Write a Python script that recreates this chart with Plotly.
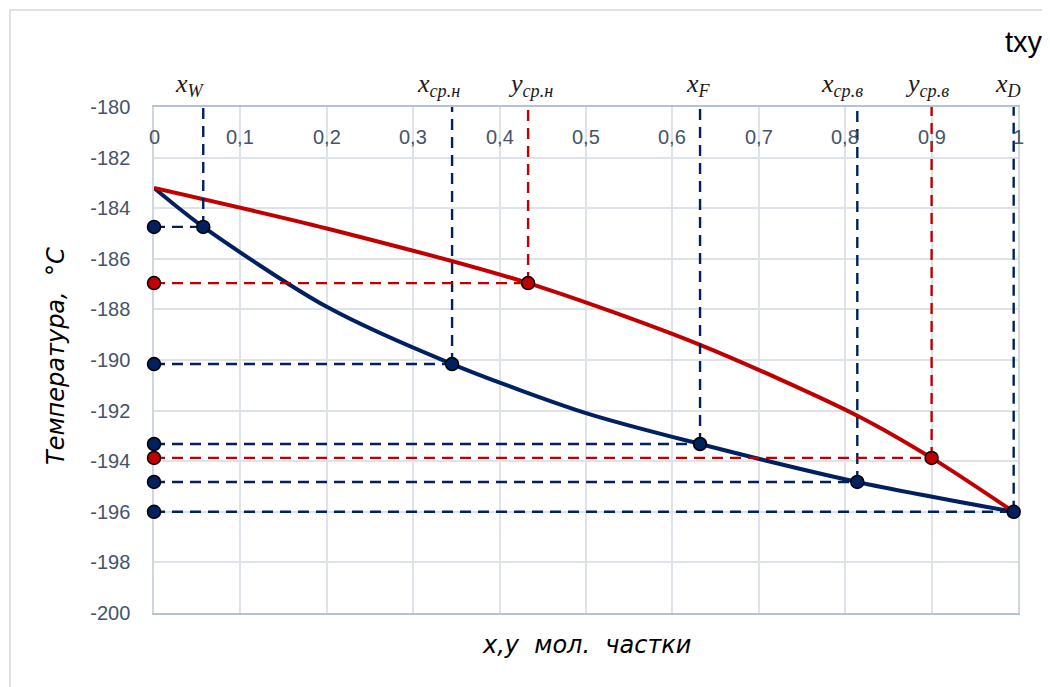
import plotly.graph_objects as go

# ---- data ----
liquid_x = [0.0, 0.057, 0.2, 0.345, 0.5, 0.632, 0.814, 0.995]
liquid_t = [-183.2, -184.74, -187.9, -190.16, -192.1, -193.32, -194.82, -196.0]

vapor_x = [0.0, 0.2, 0.433, 0.632, 0.814, 0.9, 0.995]
vapor_t = [-183.2, -184.8, -186.96, -189.4, -192.2, -193.87, -196.0]

point_labels = ["x<sub>W</sub>", "x<sub>ср.н</sub>", "y<sub>ср.н</sub>", "x<sub>F</sub>",
                "x<sub>ср.в</sub>", "y<sub>ср.в</sub>", "x<sub>D</sub>"]
point_x = [0.057, 0.345, 0.433, 0.632, 0.814, 0.900, 0.995]
point_t = [-184.74, -190.16, -186.96, -193.32, -194.82, -193.87, -196.0]
point_kind = ["liquid", "liquid", "vapor", "liquid", "liquid", "vapor", "liquid"]
label_shift = [-13, -14, 2, -2, -15, -5, -6]

x_tick_vals = [0.0, 0.1, 0.2, 0.3, 0.4, 0.5, 0.6, 0.7, 0.8, 0.9, 1.0]
x_tick_text = ["0", "0,1", "0,2", "0,3", "0,4", "0,5", "0,6", "0,7", "0,8", "0,9", "1"]
y_tick_vals = [-200, -198, -196, -194, -192, -190, -188, -186, -184, -182, -180]
y_tick_text = ["-200", "-198", "-196", "-194", "-192", "-190", "-188", "-186", "-184", "-182", "-180"]

y_top = -180
y_bottom = -200

BLUE = "#002060"
RED = "#C00000"
TICK_COLOR = "#44546A"

fig = go.Figure()

# curves
fig.add_trace(go.Scatter(x=liquid_x, y=liquid_t, mode="lines",
                         line=dict(color=BLUE, width=4, shape="spline", smoothing=0.8),
                         showlegend=False, hoverinfo="skip"))
fig.add_trace(go.Scatter(x=vapor_x, y=vapor_t, mode="lines",
                         line=dict(color=RED, width=4, shape="spline", smoothing=0.8),
                         showlegend=False, hoverinfo="skip"))

# guide lines
for px_, pt_, kind in zip(point_x, point_t, point_kind):
    col = BLUE if kind == "liquid" else RED
    fig.add_trace(go.Scatter(x=[0, px_], y=[pt_, pt_], mode="lines",
                             line=dict(color=col, width=2.4, dash="11px,7px"),
                             showlegend=False, hoverinfo="skip"))
    fig.add_trace(go.Scatter(x=[px_, px_], y=[pt_, y_top], mode="lines",
                             line=dict(color=col, width=2.4, dash="11px,7px"),
                             showlegend=False, hoverinfo="skip"))

# markers
for px_, pt_, kind in zip(point_x, point_t, point_kind):
    col = BLUE if kind == "liquid" else RED
    fig.add_trace(go.Scatter(x=[0, px_], y=[pt_, pt_], mode="markers",
                             marker=dict(color=col, size=13, line=dict(color="black", width=1.5)),
                             showlegend=False, cliponaxis=False, hoverinfo="skip"))

# x tick labels (drawn just below the top axis, inside the plot)
for tv, tt in zip(x_tick_vals, x_tick_text):
    fig.add_annotation(x=tv, y=0.9407, xref="x", yref="paper", text=tt, showarrow=False,
                       xanchor="center", yanchor="middle",
                       font=dict(family="Liberation Sans", size=20, color=TICK_COLOR))

# point labels above the top axis
for lab, px_, sh in zip(point_labels, point_x, label_shift):
    fig.add_annotation(x=px_, y=1.043, xref="x", yref="paper", text=lab, showarrow=False,
                       xshift=sh, xanchor="center", yanchor="middle",
                       font=dict(family="Liberation Serif", size=26, color="#1a1a1a", style="italic"))

# title
fig.add_annotation(x=1.031, y=1.128, xref="paper", yref="paper", text="txy", showarrow=False,
                   xanchor="right", yanchor="middle",
                   font=dict(family="Liberation Sans", size=29, color="#000000"))

# axis titles
fig.add_annotation(x=-0.1134, y=0.508, xref="paper", yref="paper",
                   text="Температура,\u00a0\u00a0°C", showarrow=False, textangle=-90,
                   xanchor="center", yanchor="middle",
                   font=dict(family="DejaVu Sans", size=24, color="#000000", style="italic"))
fig.add_annotation(x=0.5, y=-0.063, xref="paper", yref="paper",
                   text="x,y\u00a0\u00a0мол.\u00a0\u00a0частки", showarrow=False,
                   xanchor="center", yanchor="middle",
                   font=dict(family="DejaVu Sans", size=24, color="#000000", style="italic"))

# outer chart border
fig.add_shape(type="rect", xref="paper", yref="paper", x0=-0.1667, x1=1.3, y0=-0.4, y1=1.1917,
              line=dict(color="#D9D9D9", width=1.5), layer="below")

fig.update_layout(
    width=1042, height=679,
    margin=dict(l=146, r=32, t=99, b=74),
    paper_bgcolor="white", plot_bgcolor="white",
    showlegend=False,
    xaxis=dict(range=[0, 1], tickvals=x_tick_vals, side="top", showgrid=True,
               gridcolor="#DEE3EA", gridwidth=1.5, showticklabels=False,
               showline=True, linecolor="#B4C1D8", linewidth=1.5, mirror=True,
               ticks="", zeroline=False, layer="below traces"),
    yaxis=dict(range=[y_bottom, y_top], tickvals=y_tick_vals, ticktext=y_tick_text,
               showgrid=True, gridcolor="#DEE3EA", gridwidth=1.5,
               showline=True, linecolor="#D0D6DE", linewidth=1.5, mirror=True,
               ticks="outside", ticklen=18, tickcolor="rgba(0,0,0,0)", zeroline=False,
               layer="below traces",
               tickfont=dict(family="Liberation Sans", size=20, color=TICK_COLOR)),
)

fig.write_html("out.html")
